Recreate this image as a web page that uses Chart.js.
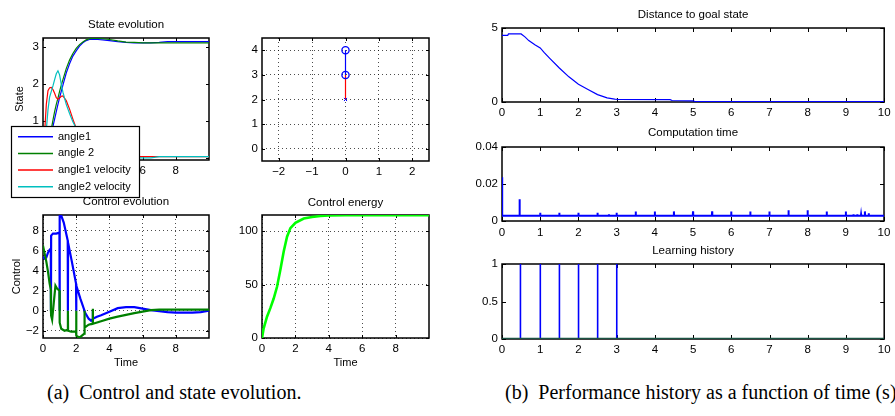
<!DOCTYPE html>
<html>
<head>
<meta charset="utf-8">
<script src="https://cdn.jsdelivr.net/npm/chart.js@4.4.1/dist/chart.umd.min.js"></script>
<style>
  html, body { margin: 0; padding: 0; background: #fff; }
  body { width: 895px; height: 416px; position: relative; overflow: hidden; }
  canvas { position: absolute; }
  .cap { position: absolute; font-family: "Liberation Serif", "Times New Roman", serif; font-size: 20px; line-height: 20px; white-space: nowrap; color: #000; }
</style>
</head>
<body>
<div class="cap" style="left:47px;top:382px">(a)&nbsp; Control and state evolution.</div>
<div class="cap" style="left:505px;top:382px">(b)&nbsp; Performance history as a function of time (s).</div>
<script>
// double pendulum state
const stateT   = [0, 0.1, 0.2, 0.3, 0.4, 0.5, 0.6, 0.7, 0.8, 0.9, 1.0, 1.1, 1.2, 1.4, 1.6, 1.8, 2.0, 2.2, 2.4, 2.6, 2.8, 3.0, 3.3, 3.6, 4.0, 4.5, 5.0, 5.5, 6.0, 6.5, 7.0, 7.5, 8.0, 9.0, 10];
const angle1   = [0, 0, 0.05, 0.15, 0.35, 0.6, 0.85, 1.05, 1.25, 1.45, 1.63, 1.8, 1.97, 2.3, 2.55, 2.76, 2.9, 3.03, 3.12, 3.18, 3.21, 3.22, 3.21, 3.2, 3.18, 3.15, 3.13, 3.12, 3.12, 3.12, 3.13, 3.15, 3.15, 3.15, 3.15];
const angle2   = [0, 0.02, 0.1, 0.25, 0.5, 0.78, 1.02, 1.25, 1.45, 1.62, 1.8, 1.97, 2.12, 2.42, 2.65, 2.83, 2.97, 3.07, 3.14, 3.2, 3.23, 3.24, 3.24, 3.23, 3.21, 3.17, 3.14, 3.13, 3.12, 3.12, 3.12, 3.12, 3.12, 3.12, 3.12];
const angle1v  = [0, 0.7, 1.45, 1.82, 1.9, 1.91, 1.85, 1.75, 1.63, 1.59, 1.62, 1.67, 1.68, 1.55, 1.32, 1.05, 0.8, 0.55, 0.38, 0.25, 0.15, 0.1, 0.06, 0.05, 0.04, 0.03, 0.03, 0.03, 0.03, 0.03, 0.03, 0.03, 0.03, 0.03, 0.03];
const angle2v  = [0, 0.25, 0.75, 1.3, 1.65, 1.8, 1.95, 2.12, 2.28, 2.36, 2.25, 2.0, 1.78, 1.45, 1.2, 0.98, 0.8, 0.6, 0.45, 0.32, 0.22, 0.15, 0.08, 0.04, 0.02, 0, 0, 0, 0, 0, 0.03, 0.03, 0.03, 0.03, 0.03];

// pendulum snapshot: cart, joint, tip
const pendX = [0, 0, 0];
const pendY = [2, 3, 4];

// control signals (drop to zero at each learning step)
const ctrlT1 = [0, 0.1, 0.2, 0.3, 0.4, 0.47, 0.48, 0.49, 0.6, 0.8, 0.99, 1.0, 1.01, 1.1, 1.25, 1.49, 1.5, 1.51, 1.75, 1.99, 2.0, 2.01, 2.25, 2.49, 2.5, 2.51, 2.75, 2.9, 2.99, 3.0, 3.01, 3.25, 3.5, 4, 4.5, 5, 5.5, 6, 6.5, 7, 7.5, 8, 9, 9.5, 10];
const ctrlU1 = [5.4, 5.2, 5.3, 5.8, 6.1, 6.2, 0, 7.5, 7.7, 7.7, 7.8, 0, 9.55, 9.5, 8.8, 7.0, 0, 6.8, 4.8, 2.7, 0, 2.5, 1.2, 0.05, 0, -0.1, -0.8, -1.0, -0.85, 0, -0.8, -0.6, -0.45, -0.1, 0.25, 0.35, 0.35, 0.2, 0.05, -0.05, -0.15, -0.2, -0.2, -0.15, 0];
const ctrlT2 = [0, 0.1, 0.2, 0.3, 0.4, 0.47, 0.48, 0.49, 0.55, 0.65, 0.75, 0.85, 0.99, 1.0, 1.01, 1.1, 1.3, 1.49, 1.5, 1.51, 1.7, 1.99, 2.0, 2.01, 2.2, 2.49, 2.5, 2.51, 2.75, 2.99, 3.0, 3.01, 3.5, 4, 4.5, 5, 5.5, 6, 6.5, 7, 8, 9, 10];
const ctrlU2 = [6.5, 5.7, 4.9, 3.9, 2.7, 2.1, 0, -0.5, -0.9, 0.8, 2.5, 2.2, 2.0, 0, -1.2, -1.8, -2.0, -1.9, 0, -2.0, -2.1, -2.1, 0, -2.5, -2.7, -2.3, 0, -1.7, -1.4, -1.3, 0.2, -1.3, -1.05, -0.8, -0.6, -0.42, -0.25, -0.1, 0.05, 0.1, 0.1, 0.1, 0.1];

// accumulated control energy
const energyT = [0, 0.1, 0.3, 0.5, 0.7, 0.9, 1.1, 1.3, 1.5, 1.7, 2.0, 2.5, 3.0, 3.5, 4.0, 5, 6, 7, 8, 9, 10];
const energyV = [0, 9, 20, 28, 37, 48, 64, 81, 95, 103, 108, 112, 113.5, 114.3, 114.8, 115, 115, 115, 115, 115, 115];

// distance to the upright goal state
const distT = [0, 0.15, 0.17, 0.5, 0.6, 0.7, 0.87, 1.0, 1.1, 1.25, 1.5, 1.75, 2.0, 2.25, 2.5, 2.75, 2.95, 3.05, 4.4, 4.45, 5.0, 5.05, 10];
const distV = [4.5, 4.5, 4.6, 4.6, 4.4, 4.15, 3.85, 3.65, 3.35, 2.95, 2.3, 1.7, 1.2, 0.85, 0.5, 0.28, 0.2, 0.17, 0.16, 0.1, 0.08, 0.03, 0.03];

// computation time per step: baseline plus spikes
const compBase   = 0.0028;
const compSpikeT = [0, 0.46, 1, 1.5, 2, 2.5, 2.8, 3, 3.5, 4, 4.5, 5, 5.5, 6, 6.5, 7, 7.5, 8, 8.5, 9, 9.2, 9.3, 9.4, 9.5, 9.6];
const compSpikeV = [0.0237, 0.0117, 0.0045, 0.0045, 0.0045, 0.0045, 0.0036, 0.0045, 0.0052, 0.0052, 0.0052, 0.0052, 0.0052, 0.0052, 0.0052, 0.0052, 0.0058, 0.0058, 0.0052, 0.0052, 0.0036, 0.0036, 0.0036, 0.0052, 0.0042];

// learning events
const learnT = [0.48, 1, 1.5, 2, 2.5, 3];
const learnV = [1, 1, 1, 1, 1, 1];

// tick labels
const ticks0to8   = [0, 2, 4, 6, 8];
const ticks0to10  = [0, 1, 2, 3, 4, 5, 6, 7, 8, 9, 10];
const stateTicks  = [0, 1, 2, 3];
const pendXTicks  = [-2, -1, 0, 1, 2];
const pendYTicks  = [0, 1, 2, 3, 4];
const ctrlTicks   = [-2, 0, 2, 4, 6, 8];
const energyTicks = [0, 50, 100];
const distTicks   = [0, 5];
const compTicks   = [0, 0.02, 0.04];
const learnTicks  = [0, 0.5, 1];

const BLUE = '#0000ff', GREEN = '#008000', RED = '#ff0000', CYAN = '#00bfbf';
const FS = 11.5;        // tick and title size
const LH = FS * 1.2;    // chart.js line height for that size

Chart.defaults.font.family = '"Liberation Sans", Arial, Helvetica, sans-serif';
Chart.defaults.font.size = FS;
Chart.defaults.color = '#000';
Chart.defaults.animation = false;
Chart.defaults.plugins.legend.display = false;
Chart.defaults.plugins.tooltip.enabled = false;
Chart.defaults.elements.point.radius = 0;
Chart.defaults.elements.line.tension = 0;

const xy = (ts, vs) => ts.map((t, i) => ({ x: t, y: vs[i] }));

function spikes(ts, vs, base, end) {
  const pts = [];
  ts.forEach((t, i) => {
    if (t > 0) pts.push({ x: t - 0.005, y: base });
    pts.push({ x: t, y: vs[i] }, { x: t + 0.005, y: base });
  });
  pts.push({ x: end, y: base });
  return pts;
}

// black box round the plot area, ticks pointing inwards on every side
const boxAxes = {
  id: 'boxAxes',
  defaults: { tick: 4 },
  beforeDatasetsDraw(chart, args, opts) {
    const { ctx, chartArea: a } = chart;
    const sx = chart.scales.x, sy = chart.scales.y;
    const len = opts.tick;
    ctx.save();
    ctx.strokeStyle = '#000';
    ctx.lineWidth = 1;
    ctx.beginPath();
    sx.ticks.forEach(t => {
      const px = Math.round(sx.getPixelForValue(t.value)) + 0.5;
      ctx.moveTo(px, a.bottom); ctx.lineTo(px, a.bottom - len);
      ctx.moveTo(px, a.top); ctx.lineTo(px, a.top + len);
    });
    sy.ticks.forEach(t => {
      const py = Math.round(sy.getPixelForValue(t.value)) + 0.5;
      ctx.moveTo(a.left, py); ctx.lineTo(a.left + len, py);
      ctx.moveTo(a.right, py); ctx.lineTo(a.right - len, py);
    });
    ctx.stroke();
    ctx.lineWidth = 1.5;
    ctx.strokeRect(a.left, a.top, a.right - a.left, a.bottom - a.top);
    ctx.restore();
  }
};
Chart.register(boxAxes);

// legend box of the state plot, hangs over the plot's lower left corner
const stateLegend = {
  id: 'stateLegend',
  afterDraw(chart) {
    const ctx = chart.ctx;
    const x0 = 11, y0 = 116, w = 128, h = 71;
    ctx.save();
    ctx.fillStyle = '#fff';
    ctx.fillRect(x0, y0, w, h);
    ctx.strokeStyle = '#000';
    ctx.lineWidth = 1.2;
    ctx.strokeRect(x0 + 0.5, y0 + 0.5, w, h);
    ctx.font = '11px "Liberation Sans", Arial, sans-serif';
    ctx.textBaseline = 'middle';
    chart.data.datasets.forEach((ds, i) => {
      const y = y0 + 10.7 + i * 16.7;
      ctx.strokeStyle = ds.borderColor;
      ctx.lineWidth = 1.5;
      ctx.beginPath();
      ctx.moveTo(x0 + 7, y);
      ctx.lineTo(x0 + 42, y);
      ctx.stroke();
      ctx.fillStyle = '#000';
      ctx.fillText(ds.label, x0 + 47, y);
    });
    ctx.restore();
  }
};

// o.labelGap: distance from the axis line to the middle of its tick labels
function axis(o) {
  const horiz = o.labelGap !== undefined;
  return {
    type: 'linear',
    min: o.min,
    max: o.max,
    afterBuildTicks: s => { s.ticks = o.ticks.map(v => ({ value: v })); },
    afterFit: s => { if (s.isHorizontal()) s.height = o.size; else s.width = o.size; },
    ticks: {
      padding: horiz ? o.labelGap - LH / 2 : 4,
      autoSkip: false,
      maxRotation: 0,
      callback: v => String(v).replace('-', '\u2212')
    },
    grid: { display: !!o.grid, drawTicks: false, color: 'rgba(0,0,0,0.7)', lineWidth: 1 },
    border: { display: false, dash: [1, 3] },
    title: o.title
      ? { display: true, text: o.title, padding: o.titlePad, font: { size: 11 } }
      : { display: false }
  };
}

// box: gap from canvas top to plot top, mid: canvas top to title middle
const title = (text, box, mid) => ({
  display: true, text, fullSize: false,
  padding: { top: mid - LH / 2, bottom: box - LH - (mid - LH / 2) },
  font: { size: FS, weight: 'normal' }
});

function addChart(pos, config) {
  const c = document.createElement('canvas');
  c.width = pos.w;
  c.height = pos.h;
  c.style.left = pos.x + 'px';
  c.style.top = pos.y + 'px';
  document.body.appendChild(c);
  config.options.responsive = false;
  return new Chart(c, config);
}

// State evolution
addChart({ x: 0, y: 10, w: 220, h: 190 }, {
  type: 'line',
  data: {
    datasets: [
      { label: 'angle1', data: xy(stateT, angle1), borderColor: BLUE, borderWidth: 1.2, order: 4 },
      { label: 'angle 2', data: xy(stateT, angle2), borderColor: GREEN, borderWidth: 1.2, order: 3 },
      { label: 'angle1 velocity', data: xy(stateT, angle1v), borderColor: RED, borderWidth: 1.2, order: 2 },
      { label: 'angle2 velocity', data: xy(stateT, angle2v), borderColor: CYAN, borderWidth: 1.2, order: 1 }
    ]
  },
  options: {
    layout: { padding: { left: 0, right: 11, top: 0, bottom: 0 } },
    plugins: { title: title('State evolution', 28, 14.7), boxAxes: { tick: 3 } },
    scales: {
      x: axis({ min: 0, max: 10, ticks: ticks0to8, size: 40, labelGap: 11 }),
      y: axis({ min: -0.06, max: 3.25, ticks: stateTicks, size: 43, title: 'State', titlePad: { top: 13.4, bottom: 0 } })
    }
  },
  plugins: [stateLegend]
});

// Pendulum snapshot
addChart({ x: 230, y: 20, w: 210, h: 165 }, {
  type: 'scatter',
  data: {
    datasets: [
      { data: xy(pendX.slice(1), pendY.slice(1)), showLine: true, borderColor: BLUE, borderWidth: 1.2, order: 2 },
      { data: xy(pendX.slice(0, 2), pendY.slice(0, 2)), showLine: true, borderColor: RED, borderWidth: 1.2, order: 3 },
      { data: xy(pendX.slice(1), pendY.slice(1)), pointStyle: 'circle', pointRadius: 3.6, borderColor: BLUE, backgroundColor: 'rgba(0,0,0,0)', borderWidth: 1.3, order: 1 },
      { data: xy(pendX.slice(0, 1), pendY.slice(0, 1)), pointStyle: 'crossRot', pointRadius: 2.2, borderColor: BLUE, borderWidth: 1, order: 1 }
    ]
  },
  options: {
    layout: { padding: { left: 0, right: 11, top: 18, bottom: 0 } },
    plugins: { boxAxes: { tick: 3 } },
    scales: {
      x: axis({ min: -2.5, max: 2.5, ticks: pendXTicks, size: 24, grid: true, labelGap: 11 }),
      y: axis({ min: -0.5, max: 4.5, ticks: pendYTicks, size: 32, grid: true })
    }
  }
});

// Control evolution
addChart({ x: 0, y: 188, w: 220, h: 187 }, {
  type: 'line',
  data: {
    datasets: [
      { data: xy(ctrlT1, ctrlU1), borderColor: BLUE, borderWidth: 2.2, order: 2 },
      { data: xy(ctrlT2, ctrlU2), borderColor: GREEN, borderWidth: 2.2, order: 1 }
    ]
  },
  options: {
    layout: { padding: { left: 0, right: 11, top: 0, bottom: 0 } },
    plugins: { title: title('Control evolution', 27, 14.2), boxAxes: { tick: 3 } },
    scales: {
      x: axis({ min: 0, max: 10, ticks: ticks0to8, size: 37, grid: true, labelGap: 11, title: 'Time', titlePad: { top: 0, bottom: 5.7 } }),
      y: axis({ min: -2.73, max: 9.56, ticks: ctrlTicks, size: 43, grid: true, title: 'Control', titlePad: { top: 10.1, bottom: 0 } })
    }
  }
});

// Control energy
addChart({ x: 230, y: 188, w: 210, h: 187 }, {
  type: 'line',
  data: {
    datasets: [
      { data: xy(energyT, energyV), borderColor: '#00ff00', borderWidth: 2.6 }
    ]
  },
  options: {
    layout: { padding: { left: 0, right: 11, top: 0, bottom: 0 } },
    plugins: { title: title('Control energy', 27, 14.5), boxAxes: { tick: 3 } },
    scales: {
      x: axis({ min: 0, max: 10, ticks: ticks0to8, size: 37, grid: true, labelGap: 11, title: 'Time', titlePad: { top: 0, bottom: 5.7 } }),
      y: axis({ min: 0, max: 115.3, ticks: energyTicks, size: 32, grid: true })
    }
  }
});

// Distance to goal state
addChart({ x: 460, y: 0, w: 435, h: 120 }, {
  type: 'line',
  data: { datasets: [{ data: xy(distT, distV), borderColor: BLUE, borderWidth: 1.2 }] },
  options: {
    layout: { padding: { left: 0, right: 8, top: 0, bottom: 0 } },
    plugins: { title: title('Distance to goal state', 28, 14.7) },
    scales: {
      x: axis({ min: 0, max: 10, ticks: ticks0to10, size: 18, labelGap: 11.3 }),
      y: axis({ min: 0, max: 5, ticks: distTicks, size: 42 })
    }
  }
});

// Computation time
addChart({ x: 460, y: 120, w: 435, h: 118 }, {
  type: 'line',
  data: { datasets: [{ data: spikes(compSpikeT, compSpikeV, compBase, 10), borderColor: BLUE, borderWidth: 2 }] },
  options: {
    layout: { padding: { left: 0, right: 8, top: 0, bottom: 0 } },
    plugins: { title: title('Computation time', 27, 13.3) },
    scales: {
      x: axis({ min: 0, max: 10, ticks: ticks0to10, size: 17, labelGap: 11.5 }),
      y: axis({ min: 0, max: 0.04, ticks: compTicks, size: 42 })
    }
  }
});

// Learning history
addChart({ x: 460, y: 238, w: 435, h: 120 }, {
  type: 'line',
  data: {
    datasets: [
      { data: [{ x: 0, y: 0 }, { x: 10, y: 0 }], borderColor: '#1b5444', borderWidth: 2.5, order: 1 },
      { data: spikes(learnT, learnV, 0, 10), borderColor: BLUE, borderWidth: 1.6, order: 2 }
    ]
  },
  options: {
    layout: { padding: { left: 0, right: 8, top: 0, bottom: 0 } },
    plugins: { title: title('Learning history', 26, 12.7) },
    scales: {
      x: axis({ min: 0, max: 10, ticks: ticks0to10, size: 19, labelGap: 11.3 }),
      y: axis({ min: 0, max: 1, ticks: learnTicks, size: 42 })
    }
  }
});
</script>
</body>
</html>
